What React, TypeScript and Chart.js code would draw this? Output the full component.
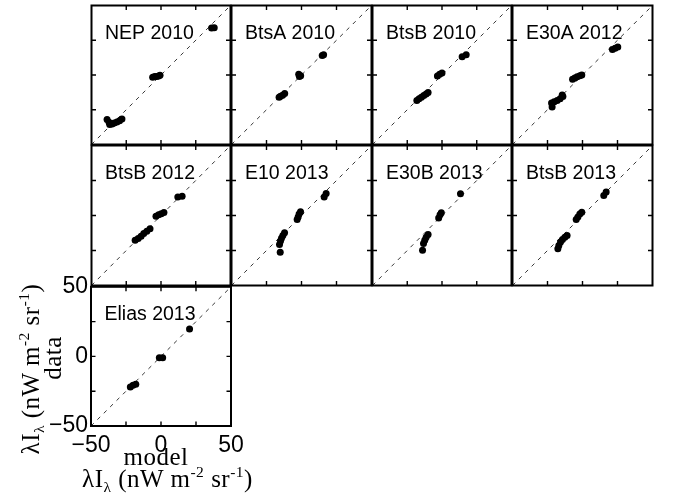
import React, { useEffect, useRef } from "react";
import { Chart, registerables } from "chart.js";

Chart.register(...registerables);

// ---- axis settings ----
const axisMin = -50;
const axisMax = 50;
const tickValues = [-50, -25, 0, 25, 50];
const innerTickValues = [-25, 0, 25];
const tickLabelValues = [-50, 0, 50];

// ---- panel titles ----
const panelTitles = [
  "NEP 2010",
  "BtsA 2010",
  "BtsB 2010",
  "E30A 2012",
  "BtsB 2012",
  "E10 2013",
  "E30B 2013",
  "BtsB 2013",
  "Elias 2013",
];

// ---- data: model (x) vs data (y), nW m^-2 sr^-1 ----
const nep2010Model = [-38.8, -37.4, -36.9, -35.2, -33.6, -31.7, -29.8, -28.1, -6.0, -4.5, -3.1, -1.7, -0.7, 36.4, 38.3];
const nep2010Data = [-32.1, -34.0, -35.7, -35.2, -34.5, -33.8, -32.9, -31.7, -1.7, -1.0, -1.0, -0.7, -0.2, 33.8, 34.0];

const btsA2010Model = [-16.0, -15.0, -13.5, -12.0, -2.0, -0.6, -1.5, 14.8, 15.8];
const btsA2010Data = [-16.0, -15.3, -14.5, -13.3, 0.6, -0.5, -1.0, 14.0, 14.6];

const btsB2010Model = [-18.1, -16.5, -14.8, -13.1, -11.4, -10.0, -3.3, -1.7, 0.0, 14.5, 17.4];
const btsB2010Data = [-18.3, -17.0, -16.0, -14.8, -13.6, -12.6, -0.7, 0.5, 1.4, 13.1, 14.5];

const e30A2012Model = [-21.7, -22.1, -20.2, -18.1, -16.0, -14.0, -14.5, -7.1, -5.5, -3.8, -1.9, -0.5, 21.4, 23.3, 25.2];
const e30A2012Data = [-23.1, -20.2, -19.3, -18.3, -17.1, -15.5, -14.3, -3.1, -2.1, -1.2, -0.5, 0.0, 18.3, 19.3, 20.2];

const btsB2012Model = [-18.6, -16.4, -14.3, -12.4, -10.2, -7.9, -3.6, -1.7, 0.2, 2.1, 12.1, 15.2];
const btsB2012Data = [-17.6, -16.4, -14.8, -12.9, -11.2, -9.5, -0.5, 0.5, 1.2, 2.1, 13.3, 13.8];

const e10_2013Model = [-15.2, -15.7, -15.0, -14.3, -13.3, -12.1, -3.1, -2.4, -1.7, -0.7, 16.2, 17.6];
const e10_2013Data = [-26.2, -20.7, -18.3, -16.2, -14.3, -12.4, -2.9, -1.0, 1.0, 2.6, 13.3, 15.7];

const e30B2013Model = [-14.0, -13.3, -12.4, -11.4, -10.0, -2.4, -1.4, -0.5, 13.3];
const e30B2013Data = [-24.8, -20.0, -17.6, -15.5, -13.6, -1.7, 0.5, 1.9, 15.5];

const btsB2013Model = [-17.6, -16.9, -15.7, -14.3, -12.6, -11.0, -4.5, -3.3, -1.9, -0.5, 15.2, 16.9];
const btsB2013Data = [-23.8, -21.4, -19.0, -17.1, -15.5, -14.3, -2.9, -1.0, 1.0, 2.4, 14.3, 16.7];

const elias2013Model = [-21.9, -20.0, -18.0, -1.2, 1.2, 20.4];
const elias2013Data = [-21.9, -20.7, -20.0, -0.9, -1.0, 19.7];

const panelModels = [nep2010Model, btsA2010Model, btsB2010Model, e30A2012Model, btsB2012Model, e10_2013Model, e30B2013Model, btsB2013Model, elias2013Model];
const panelData = [nep2010Data, btsA2010Data, btsB2010Data, e30A2012Data, btsB2012Data, e10_2013Data, e30B2013Data, btsB2013Data, elias2013Data];

// ---- layout (page pixels) ----
const colEdges = [91, 231, 372, 512, 653];
const rowEdges = [5, 145, 286, 426];

const SANS = '"Liberation Sans", Arial, Helvetica, sans-serif';
const SERIF = '"Liberation Serif", "Times New Roman", Times, serif';

const fmtTick = (v: number) => (v < 0 ? "\u2212" + Math.abs(v) : String(v));

const framePlugin = {
  id: "frame",
  afterDatasetsDraw(chart: any, _args: any, opts: any) {
    const { ctx, chartArea: a, scales } = chart;
    ctx.save();
    ctx.strokeStyle = "#000";
    ctx.lineWidth = 1.4;
    const L = 4.5;
    ctx.beginPath();
    for (const v of innerTickValues) {
      const x = scales.x.getPixelForValue(v);
      const y = scales.y.getPixelForValue(v);
      ctx.moveTo(x, a.bottom);
      ctx.lineTo(x, a.bottom - L);
      ctx.moveTo(x, a.top);
      ctx.lineTo(x, a.top + L);
      ctx.moveTo(a.left, y);
      ctx.lineTo(a.left + L, y);
      ctx.moveTo(a.right, y);
      ctx.lineTo(a.right - L, y);
    }
    ctx.stroke();
    ctx.lineWidth = 2;
    ctx.strokeRect(a.left, a.top, a.right - a.left, a.bottom - a.top);
    ctx.font = "19.5px " + SANS;
    ctx.fillStyle = "#000";
    ctx.textBaseline = "alphabetic";
    ctx.textAlign = "left";
    ctx.fillText(opts.title, a.left + 13.5, a.top + 33);
    ctx.restore();
  },
};

type PanelProps = {
  title: string;
  xs: number[];
  ys: number[];
  left: number;
  top: number;
  width: number;
  height: number;
  labeled: boolean;
};

function Panel({ title, xs, ys, left, top, width, height, labeled }: PanelProps) {
  const ref = useRef<HTMLCanvasElement>(null);

  const pad = labeled
    ? { left: 0, top: 16, right: 20, bottom: 0 }
    : { left: 3, top: 3, right: 3, bottom: 3 };
  const yAxisW = labeled ? left : 0;
  const xAxisH = labeled ? 40 : 0;
  const cLeft = labeled ? 0 : left - pad.left;
  const cTop = top - pad.top;
  const cW = pad.left + yAxisW + width + pad.right;
  const cH = pad.top + height + xAxisH + pad.bottom;

  useEffect(() => {
    if (!ref.current) return;
    const tickFont = { family: SANS, size: 23 };
    const chart = new Chart(ref.current, {
      type: "scatter",
      data: {
        datasets: [
          {
            type: "scatter",
            data: xs.map((x, i) => ({ x, y: ys[i] })),
            pointRadius: 3.5,
            pointHoverRadius: 3.5,
            pointBackgroundColor: "#000",
            pointBorderWidth: 0,
            showLine: false,
          } as any,
          {
            type: "line",
            data: [
              { x: axisMin, y: axisMin },
              { x: axisMax, y: axisMax },
            ],
            borderColor: "#222",
            borderWidth: 0.9,
            borderDash: [4, 5],
            pointRadius: 0,
            fill: false,
          } as any,
        ],
      },
      options: {
        animation: false,
        responsive: false,
        maintainAspectRatio: false,
        events: [],
        layout: { padding: pad },
        plugins: {
          legend: { display: false },
          tooltip: { enabled: false },
          frame: { title },
        } as any,
        scales: {
          x: {
            type: "linear",
            min: axisMin,
            max: axisMax,
            afterBuildTicks: (s: any) => {
              s.ticks = tickValues.map((v) => ({ value: v }));
            },
            afterFit: (s: any) => {
              s.height = xAxisH;
            },
            ticks: {
              display: labeled,
              autoSkip: false,
              maxRotation: 0,
              padding: 6,
              color: "#000",
              font: tickFont,
              callback: (v: any) => (tickLabelValues.includes(Number(v)) ? fmtTick(Number(v)) : ""),
            },
            grid: { display: false, drawTicks: false, tickLength: 0 },
            border: { display: false },
          },
          y: {
            type: "linear",
            min: axisMin,
            max: axisMax,
            afterBuildTicks: (s: any) => {
              s.ticks = tickValues.map((v) => ({ value: v }));
            },
            afterFit: (s: any) => {
              s.width = yAxisW;
            },
            ticks: {
              display: labeled,
              autoSkip: false,
              padding: 3,
              color: "#000",
              font: tickFont,
              callback: (v: any) => (tickLabelValues.includes(Number(v)) ? fmtTick(Number(v)) : ""),
            },
            grid: { display: false, drawTicks: false, tickLength: 0 },
            border: { display: false },
          },
        },
      } as any,
      plugins: [framePlugin as any],
    });
    return () => chart.destroy();
  }, []);

  return (
    <canvas
      ref={ref}
      width={cW}
      height={cH}
      style={{ position: "absolute", left: cLeft, top: cTop, width: cW, height: cH }}
    />
  );
}

const supStyle: React.CSSProperties = {
  fontSize: "0.62em",
  position: "relative",
  top: "-0.62em",
  verticalAlign: "baseline",
  lineHeight: 0,
};
const subStyle: React.CSSProperties = {
  fontSize: "0.62em",
  position: "relative",
  top: "0.3em",
  verticalAlign: "baseline",
  lineHeight: 0,
};

function UnitLabel() {
  return (
    <>
      λI<span style={subStyle}>λ</span> (nW m<span style={supStyle}>-2</span> sr<span style={supStyle}>-1</span>)
    </>
  );
}

const labelBase: React.CSSProperties = {
  position: "absolute",
  width: 300,
  height: 22,
  lineHeight: "22px",
  fontSize: 25,
  letterSpacing: "0.5px",
  fontFamily: SERIF,
  textAlign: "center",
  whiteSpace: "nowrap",
  color: "#000",
};

export default function App() {
  const panels = panelTitles.map((title, i) => {
    const row = i < 8 ? Math.floor(i / 4) : 2;
    const col = i < 8 ? i % 4 : 0;
    const left = colEdges[col];
    const top = rowEdges[row];
    return (
      <Panel
        key={title + i}
        title={title}
        xs={panelModels[i]}
        ys={panelData[i]}
        left={left}
        top={top}
        width={colEdges[col + 1] - left}
        height={rowEdges[row + 1] - top}
        labeled={i === 8}
      />
    );
  });

  return (
    <div
      style={{
        position: "absolute",
        left: 0,
        top: 0,
        width: 673,
        height: 502,
        background: "#fff",
        overflow: "hidden",
      }}
    >
      {panels}
      {/* y-axis title */}
      <div style={{ ...labelBase, left: 31 - 150, top: 368.5 - 11, transform: "rotate(-90deg)" }}>
        <UnitLabel />
      </div>
      <div style={{ ...labelBase, left: 53 - 150, top: 357.5 - 11, transform: "rotate(-90deg)" }}>data</div>
      {/* x-axis title */}
      <div style={{ ...labelBase, left: 156 - 150, top: 446 }}>model</div>
      <div style={{ ...labelBase, left: 167.5 - 150, top: 468 }}>
        <UnitLabel />
      </div>
    </div>
  );
}
